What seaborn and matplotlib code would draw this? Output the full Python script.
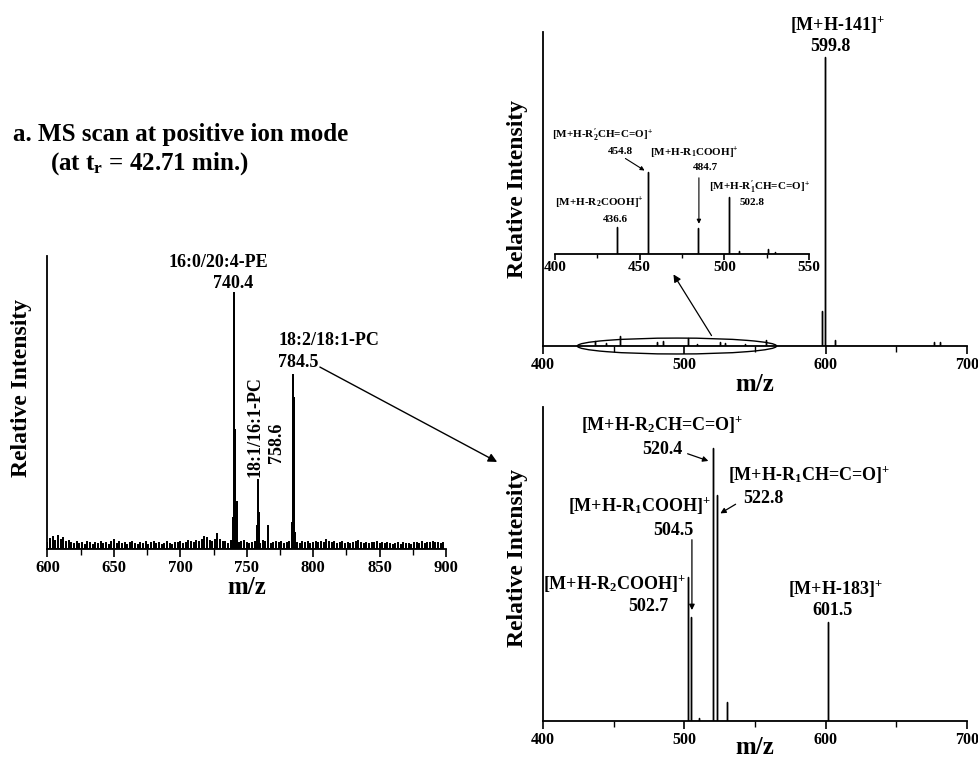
import numpy as np
import pandas as pd
import seaborn as sns
import matplotlib.pyplot as plt
from matplotlib.patches import Ellipse, ConnectionPatch
from matplotlib.ticker import MultipleLocator

# ---- data (relative intensities) ----
# a. full MS scan, base peak 740.4 = 100
scan_peak_mz = [739.6, 740.4, 741.4, 742.4, 757.8, 758.6, 759.4, 766.2, 783.8, 784.5, 785.3, 786.4]
scan_peak_int = [12.0, 100.0, 46.5, 18.5, 9.0, 27.0, 14.0, 9.0, 10.0, 68.0, 59.0, 6.3]
# noise floor, every 2 m/z from 600 to 898
scan_noise = [
    2.5, 3.8, 4.6, 3.2, 4.9, 3.6, 4.2, 2.8, 3.1, 2.2, 1.8, 2.6, 1.9, 2.4, 1.7, 2.9, 2.3, 1.6, 2.5, 2.0, 2.8, 1.9, 2.2, 1.5, 2.6,
    3.4, 2.1, 2.7, 1.8, 2.3, 1.6, 2.5, 2.9, 2.0, 1.7, 2.4, 1.9, 2.6, 1.5, 2.2, 2.8, 1.8, 2.3, 1.6, 2.1, 2.7, 2.0, 1.7, 2.5, 2.3,
    2.8, 1.9, 2.4, 3.0, 2.6, 2.2, 3.1, 2.7, 3.6, 4.8, 4.1, 3.3, 2.9, 3.7, 6.0, 3.5, 2.6, 2.8, 1.9, 3.2, 2.4, 2.9, 2.2, 2.6, 3.0,
    2.5, 2.0, 2.2, 2.7, 2.4, 2.0, 3.0, 2.6, 3.3, 2.1, 2.5, 2.8, 2.3, 2.6, 2.0, 2.4, 2.9, 2.2, 2.7, 2.5, 1.9, 2.6, 2.3, 2.8, 2.1,
    2.4, 2.7, 2.2, 2.9, 2.5, 3.4, 2.8, 2.4, 2.6, 2.0, 2.3, 2.8, 2.1, 2.5, 2.0, 2.2, 2.7, 3.0, 2.4, 1.9, 2.3, 2.0, 2.5, 2.2, 2.6,
    2.1, 2.3, 1.8, 2.4, 2.0, 1.6, 1.9, 2.2, 1.7, 2.4, 1.8, 2.1, 1.6, 2.3, 2.5, 2.1, 2.7, 2.0, 2.4, 2.2, 2.6, 2.3, 2.5, 2.1, 2.4,
]
scan_noise_mz = np.arange(600, 900, 2)

# MS/MS of 740.4 (top right), 599.8 = 100
pe_mz = [436.6, 444.6, 454.8, 480.7, 484.7, 502.8, 508.7, 525.0, 528.8, 543.0, 557.6, 597.5, 599.8, 606.7, 677.0, 681.0]
pe_int = [1.7, 1.0, 3.5, 1.3, 1.7, 2.8, 0.8, 1.5, 1.0, 0.8, 2.0, 12.1, 100.0, 2.0, 1.5, 1.5]
# zoomed inset 400-550, 454.8 = 100
zoom_mz = [436.6, 454.8, 484.7, 502.8, 508.7, 525.6, 530.0]
zoom_int = [33.0, 100.0, 32.0, 70.0, 4.0, 6.0, 2.5]

# MS/MS of 784.5 (bottom right), 520.4 = 100
pc_mz = [502.7, 504.5, 510.4, 520.4, 522.8, 530.3, 601.5]
pc_int = [52.7, 38.1, 1.1, 100.0, 82.8, 7.0, 36.3]

scan_labels = ["16:0/20:4-PE", "18:2/18:1-PC", "18:1/16:1-PC"]
pe_labels = ["[M+H-141]$^{+}$", "[M+H-R$_{2}^{\\prime}$CH=C=O]$^{+}$", "[M+H-R$_{1}$COOH]$^{+}$",
             "[M+H-R$_{1}^{\\prime}$CH=C=O]$^{+}$", "[M+H-R$_{2}$COOH]$^{+}$"]
pc_labels = ["[M+H-R$_{2}$CH=C=O]$^{+}$", "[M+H-R$_{1}$CH=C=O]$^{+}$", "[M+H-R$_{1}$COOH]$^{+}$",
             "[M+H-R$_{2}$COOH]$^{+}$", "[M+H-183]$^{+}$"]

# ---- style ----
sns.set_style("ticks", {"axes.edgecolor": "black", "xtick.color": "black", "ytick.color": "black",
                        "text.color": "black", "axes.labelcolor": "black"})
plt.rcParams["font.family"] = ["Liberation Serif", "DejaVu Serif"]
plt.rcParams["font.weight"] = "bold"
plt.rcParams["axes.labelweight"] = "bold"
plt.rcParams["mathtext.fontset"] = "custom"
plt.rcParams["mathtext.rm"] = "Liberation Serif:bold"
plt.rcParams["mathtext.it"] = "Liberation Serif:bold"
plt.rcParams["mathtext.bf"] = "Liberation Serif:bold"


def sticks(mz, inten):
    # each peak as a vertical stick: (x,0) -> (x,h) -> (x,0)
    mz = np.asarray(mz, float)
    inten = np.asarray(inten, float)
    order = np.argsort(mz, kind="stable")
    mz, inten = mz[order], inten[order]
    z = np.zeros_like(inten)
    return pd.DataFrame({"mz": np.repeat(mz, 3),
                         "inten": np.column_stack([z, inten, z]).ravel()})


def draw_spectrum(ax, mz, inten, lw=1.0):
    sns.lineplot(data=sticks(mz, inten), x="mz", y="inten", sort=False, estimator=None,
                 color="black", lw=lw, ax=ax)
    ax.set_xlabel("")
    ax.set_ylabel("")


def style_axis(ax, xmin, xmax, major, minor, labelsize=12):
    ax.set_xlim(xmin, xmax)
    ax.set_xticks(np.arange(xmin, xmax + 1, major))
    ax.xaxis.set_minor_locator(MultipleLocator(minor))
    ax.set_yticks([])
    ax.tick_params(axis="x", which="major", direction="out", length=6, width=1.2,
                   labelsize=labelsize, pad=2)
    ax.tick_params(axis="x", which="minor", direction="out", length=4, width=1.0)
    for s in ax.spines.values():
        s.set_linewidth(1.3)
    sns.despine(ax=ax)


fig = plt.figure(figsize=(9.79, 7.59), dpi=100)

# ---- a. full scan ----
ax1 = fig.add_axes([0.0485, 0.2767, 0.407, 0.386])
draw_spectrum(ax1, list(scan_noise_mz) + scan_peak_mz, scan_noise + scan_peak_int, lw=1.2)
style_axis(ax1, 600, 900, 50, 25)
ax1.set_ylim(0, 114.5)
ax1.set_xlabel("m/z", fontsize=18, labelpad=0)
ax1.text(-0.064, 0.55, "Relative Intensity", transform=ax1.transAxes, rotation=90,
         ha="center", va="center", fontsize=17)
ax1.text(728.4, 112.1, scan_labels[0], ha="center", va="center", fontsize=13, clip_on=False)
ax1.text(739.6, 103.9, "740.4", ha="center", va="center", fontsize=13, clip_on=False)
ax1.text(811.9, 81.6, scan_labels[1], ha="center", va="center", fontsize=13)
ax1.text(788.6, 72.7, "784.5", ha="center", va="center", fontsize=13)
ax1.text(756.2, 47.7, scan_labels[2], ha="center", va="center", fontsize=13, rotation=90)
ax1.text(772.8, 41.4, "758.6", ha="center", va="center", fontsize=13, rotation=90)

fig.text(13 / 979, 1 - 141 / 759, "a. MS scan at positive ion mode", fontsize=18, va="baseline")
fig.text(50 / 979, 1 - 170 / 759, "(at t$_{r}$ = 42.71 min.)", fontsize=18, va="baseline")

# ---- MS/MS of 740.4 ----
ax2 = fig.add_axes([0.5546, 0.5441, 0.4331, 0.4137])
draw_spectrum(ax2, pe_mz, pe_int, lw=1.0)
style_axis(ax2, 400, 700, 100, 50, labelsize=11.5)
ax2.set_ylim(0, 108.65)
ax2.set_xlabel("m/z", fontsize=18, labelpad=0)
ax2.text(-0.061, 0.5, "Relative Intensity", transform=ax2.transAxes, rotation=90,
         ha="center", va="center", fontsize=17)
ax2.text(608.7, 111.1, pe_labels[0], ha="center", va="center", fontsize=13, clip_on=False)
ax2.text(603.1, 103.8, "599.8", ha="center", va="center", fontsize=13, clip_on=False)
ax2.add_patch(Ellipse((494.8, 0), 141, 5.5, fill=False, lw=1.0, color="black", clip_on=False))
ax2.annotate("", xy=(491.3, 25.6), xytext=(520.3, 2.8),
             arrowprops=dict(arrowstyle="-|>", color="black", lw=0.9, mutation_scale=11))

# inset
ax3 = fig.add_axes([0.5669, 0.6653, 0.2594, 0.1634])
ax3.set_facecolor("none")
draw_spectrum(ax3, zoom_mz, zoom_int, lw=1.0)
style_axis(ax3, 400, 550, 50, 25, labelsize=11)
ax3.tick_params(axis="x", which="major", length=4, pad=1)
ax3.tick_params(axis="x", which="minor", length=3)
ax3.spines["left"].set_visible(False)
ax3.set_ylim(0, 151.2)
sfs = 8
ax3.text(427.8, 145.1, pe_labels[1], ha="center", va="center", fontsize=sfs, clip_on=False)
ax3.text(438.4, 125.6, "454.8", ha="center", va="center", fontsize=sfs)
ax3.annotate("", xy=(454.3, 100), xytext=(440.2, 118.3),
             arrowprops=dict(arrowstyle="-|>", color="black", lw=0.8, mutation_scale=6))
ax3.text(482.1, 123.2, pe_labels[2], ha="center", va="center", fontsize=sfs)
ax3.text(488.6, 104.9, "484.7", ha="center", va="center", fontsize=sfs)
ax3.annotate("", xy=(485.0, 33.5), xytext=(485.0, 96.3),
             arrowprops=dict(arrowstyle="-|>", color="black", lw=0.8, mutation_scale=6))
ax3.text(520.5, 81.7, pe_labels[3], ha="center", va="center", fontsize=sfs)
ax3.text(516.4, 63.4, "502.8", ha="center", va="center", fontsize=sfs)
ax3.text(426.0, 62.2, pe_labels[4], ha="center", va="center", fontsize=sfs)
ax3.text(435.4, 41.5, "436.6", ha="center", va="center", fontsize=sfs)

# ---- MS/MS of 784.5 ----
ax4 = fig.add_axes([0.5546, 0.0501, 0.4331, 0.4137])
draw_spectrum(ax4, pc_mz, pc_int, lw=1.0)
style_axis(ax4, 400, 700, 100, 50, labelsize=11.5)
ax4.set_ylim(0, 115)
ax4.set_xlabel("m/z", fontsize=18, labelpad=-9)
ax4.text(-0.061, 0.52, "Relative Intensity", transform=ax4.transAxes, rotation=90,
         ha="center", va="center", fontsize=17)
ax4.text(484.2, 108.4, pc_labels[0], ha="center", va="center", fontsize=13)
ax4.text(484.2, 99.3, "520.4", ha="center", va="center", fontsize=13)
ax4.annotate("", xy=(518.9, 94.9), xytext=(500.5, 98.2),
             arrowprops=dict(arrowstyle="-|>", color="black", lw=0.9, mutation_scale=8))
ax4.text(588.2, 90.1, pc_labels[1], ha="center", va="center", fontsize=13)
ax4.text(555.7, 81.3, "522.8", ha="center", va="center", fontsize=13)
ax4.annotate("", xy=(523.8, 75.5), xytext=(538.0, 79.9),
             arrowprops=dict(arrowstyle="-|>", color="black", lw=0.9, mutation_scale=8))
ax4.text(467.9, 78.8, pc_labels[2], ha="center", va="center", fontsize=13)
ax4.text(492.0, 69.6, "504.5", ha="center", va="center", fontsize=13)
ax4.annotate("", xy=(505.4, 39.6), xytext=(505.4, 67.4),
             arrowprops=dict(arrowstyle="-|>", color="black", lw=0.9, mutation_scale=8))
ax4.text(450.9, 50.5, pc_labels[3], ha="center", va="center", fontsize=13)
ax4.text(474.3, 41.8, "502.7", ha="center", va="center", fontsize=13)
ax4.text(607.3, 48.7, pc_labels[4], ha="center", va="center", fontsize=13)
ax4.text(605.2, 40.3, "601.5", ha="center", va="center", fontsize=13)

# ---- arrows from precursor labels to their MS/MS panels ----
con1 = ConnectionPatch(xyA=(769.0, 116.0), coordsA="data", axesA=ax1,
                       xyB=(-0.101, 0.602), coordsB="axes fraction", axesB=ax2,
                       arrowstyle="-|>", color="black", lw=1.0, mutation_scale=13)
con2 = ConnectionPatch(xyA=(805.1, 71.1), coordsA="data", axesA=ax1,
                       xyB=(-0.108, 0.825), coordsB="axes fraction", axesB=ax4,
                       arrowstyle="-|>", color="black", lw=1.0, mutation_scale=13)
fig.add_artist(con1)
fig.add_artist(con2)

fig.savefig("out.png", dpi=100)
